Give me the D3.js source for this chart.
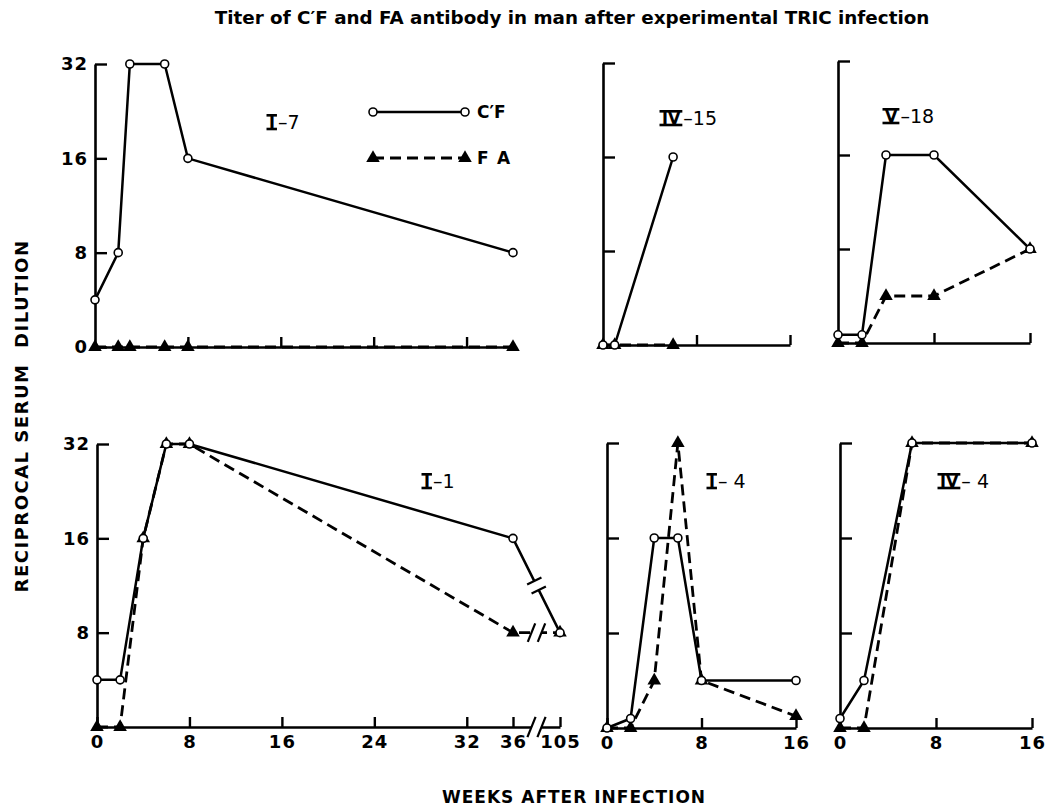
<!DOCTYPE html>
<html><head><meta charset="utf-8">
<script src="https://cdn.jsdelivr.net/npm/d3@7"></script>
<style>body{margin:0;background:#fff} svg{display:block}</style>
</head><body><svg id="c" width="1048" height="807"></svg>
<script>
// ---------- data ----------
const yTickValues = [0, 8, 16, 32];
const yTickLabels = ["0", "8", "16", "32"];
const xTicksLong = [0, 8, 16, 24, 32, 36, 105];
const xTicksShort = [0, 8, 16];

const weeksI7 = [0, 2, 3, 6, 8, 36];
const cfI7 = [4, 8, 32, 32, 16, 8];
const faI7 = [0, 0, 0, 0, 0, 0];

const weeksIV15 = [0, 1, 6];
const cfIV15 = [0, 0, 16];
const faIV15 = [0, 0, 0];

const weeksV18 = [0, 2, 4, 8, 16];
const cfV18 = [0.7, 0.7, 16, 16, 8];
const faV18 = [0, 0, 4, 4, 8];

const weeksI1 = [0, 2, 4, 6, 8, 36, 105];
const cfI1 = [4, 4, 16, 32, 32, 16, 8];
const faI1 = [0, 0, 16, 32, 32, 8, 8];

const weeksI4 = [0, 2, 4, 6, 8, 16];
const cfI4 = [0, 0.8, 16, 16, 4, 4];
const faI4 = [0, 0, 4, 32, 4, 1];

const weeksIV4 = [0, 2, 6, 16];
const cfIV4 = [0.8, 4, 32, 32];
const faIV4 = [0, 0, 32, 32];

const titleText = "Titer of C\u2032F and FA antibody in man after experimental TRIC infection";
const yTitle = "RECIPROCAL SERUM\u00A0 DILUTION";
const xTitle = "WEEKS AFTER INFECTION";

// ---------- layout ----------
const FONT = "DejaVu Sans";
const svg = d3.select("#c");

const panels = [
  {roman:"I", suffix:"\u20137", weeks:weeksI7, cf:cfI7, fa:faI7, xDomain:[0,36], xRange:[95,513], top:64, base:347,
   xTicks:[8,16,24,32], xLabels:false, yTicks:[0,8,16,32], yLabels:true, showZero:true, lab:[269,128]},
  {roman:"IV", suffix:"\u201315", weeks:weeksIV15, cf:cfIV15, fa:faIV15, xDomain:[0,16], xRange:[603,790], top:63, base:345,
   xTicks:[8,16], xLabels:false, yTicks:[8,16,32], yLabels:false, lab:[662,124]},
  {roman:"V", suffix:"\u201318", weeks:weeksV18, cf:cfV18, fa:faV18, xDomain:[0,16], xRange:[838,1030], top:61, base:343,
   xTicks:[8,16], xLabels:false, yTicks:[8,16,32], yLabels:false, lab:[885,122]},
  {roman:"I", suffix:"\u20131", weeks:weeksI1, cf:cfI1, fa:faI1, xDomain:[0,36,105], xRange:[97,513,560], top:444, base:727,
   xTicks:xTicksLong, xLabels:true, yTicks:[8,16,32], yLabels:true, lab:[424,487], breaks:true},
  {roman:"I", suffix:"\u2013 4", weeks:weeksI4, cf:cfI4, fa:faI4, xDomain:[0,16], xRange:[607,796], top:443, base:728,
   xTicks:xTicksShort, xLabels:true, yTicks:[8,16,32], yLabels:false, lab:[709,487]},
  {roman:"IV", suffix:"\u2013 4", weeks:weeksIV4, cf:cfIV4, fa:faIV4, xDomain:[0,16], xRange:[840,1032], top:443, base:728,
   xTicks:xTicksShort, xLabels:true, yTicks:[8,16,32], yLabels:false, lab:[940,487]}
];

const tri = d3.symbol().type(d3.symbolTriangle).size(80);

function romanLabel(x, yb, roman, suffix) {
  const g = svg.append("g");
  const fs = 16;
  const t = g.append("text").attr("x", x).attr("y", yb)
    .attr("font-family", FONT).attr("font-size", fs).attr("font-weight", "bold").text(roman);
  const w = t.node().getComputedTextLength();
  const capTop = yb - fs * 0.73;
  [capTop - 1, yb + 1].forEach(yy =>
    g.append("line").attr("x1", x - 2.5).attr("x2", x + w + 2).attr("y1", yy).attr("y2", yy)
      .attr("stroke", "#000").attr("stroke-width", 2.6));
  g.append("text").attr("x", x + w + 3).attr("y", yb + 1)
    .attr("font-family", FONT).attr("font-size", 19).text(suffix);
}

function slashes(g, cx, cy, ux, uy, px, py, half, sep) {
  g.append("line").attr("x1", cx - ux*sep).attr("y1", cy - uy*sep)
    .attr("x2", cx + ux*sep).attr("y2", cy + uy*sep)
    .attr("stroke", "#fff").attr("stroke-width", 6);
  [-sep, sep].forEach(s => {
    const mx = cx + ux*s, my = cy + uy*s;
    g.append("line").attr("x1", mx - px*half).attr("y1", my - py*half)
      .attr("x2", mx + px*half).attr("y2", my + py*half)
      .attr("stroke", "#000").attr("stroke-width", 2.2);
  });
}

panels.forEach(p => {
  const x = d3.scaleLinear().domain(p.xDomain).range(p.xRange);
  const h = p.base - p.top;
  const y = d3.scaleLinear().domain(yTickValues)
    .range(yTickValues.map((d, i) => p.base - i * h / 3));
  const g = svg.append("g");

  const xa = d3.axisBottom(x).tickValues(p.xTicks).tickSize(-10).tickSizeOuter(0).tickPadding(8)
    .tickFormat(d => p.xLabels ? String(d) : "");
  const gx = g.append("g").attr("transform", `translate(0,${p.base})`).call(xa);

  const ya = d3.axisLeft(y).tickValues(p.yTicks).tickSize(-12).tickSizeOuter(0).tickPadding(7)
    .tickFormat(d => {
      if (!p.yLabels) return "";
      if (d === 0 && !p.showZero) return "";
      return yTickLabels[yTickValues.indexOf(d)];
    });
  const gy = g.append("g").attr("transform", `translate(${p.xRange[0]},0)`).call(ya);

  [gx, gy].forEach(a => {
    a.attr("font-family", FONT).attr("font-size", 18).attr("font-weight", "bold");
    a.selectAll("path.domain").attr("stroke", "#000").attr("stroke-width", 2.6);
    a.selectAll(".tick line").attr("stroke", "#000").attr("stroke-width", 2.4);
    a.selectAll(".tick text").attr("fill", "#000").attr("letter-spacing", 1);
  });

  const cfPts = p.weeks.map((w, i) => [x(w), y(p.cf[i])]);
  const faPts = p.weeks.map((w, i) => [x(w), y(p.fa[i])]);
  const line = d3.line();

  g.append("path").attr("d", line(faPts)).attr("fill", "none").attr("stroke", "#000")
    .attr("stroke-width", 2.8).attr("stroke-dasharray", "11,6");
  g.append("path").attr("d", line(cfPts)).attr("fill", "none").attr("stroke", "#000")
    .attr("stroke-width", 2.5);

  if (p.breaks) {
    const n = p.weeks.length;
    const bx = (x(p.weeks[n-2]) + x(p.weeks[n-1])) / 2;
    const sl = Math.hypot(8, 20);
    slashes(g, bx, p.base, 1, 0, 8/sl, -20/sl, 11, 5);
    const fa0 = faPts[n-2], fa1 = faPts[n-1];
    slashes(g, (fa0[0]+fa1[0])/2, (fa0[1]+fa1[1])/2, 1, 0, 8/sl, -20/sl, 10, 5);
    const c0 = cfPts[n-2], c1 = cfPts[n-1];
    const dx = c1[0]-c0[0], dy = c1[1]-c0[1], L = Math.hypot(dx, dy);
    const ux = dx/L, uy = dy/L;
    slashes(g, (c0[0]+c1[0])/2, (c0[1]+c1[1])/2, ux, uy, uy, -ux, 8, 5);
  }

  g.selectAll("path.fa").data(faPts).join("path").attr("class", "fa")
    .attr("d", tri).attr("transform", d => `translate(${d[0]},${d[1]})`).attr("fill", "#000");
  g.selectAll("circle.cf").data(cfPts).join("circle").attr("class", "cf")
    .attr("cx", d => d[0]).attr("cy", d => d[1]).attr("r", 4)
    .attr("fill", "#fff").attr("stroke", "#000").attr("stroke-width", 1.6);

  romanLabel(p.lab[0], p.lab[1], p.roman, p.suffix);
});

// ---------- legend ----------
const lg = svg.append("g");
lg.append("line").attr("x1", 373).attr("x2", 465).attr("y1", 112).attr("y2", 112)
  .attr("stroke", "#000").attr("stroke-width", 2.5);
[373, 465].forEach(cx => lg.append("circle").attr("cx", cx).attr("cy", 112).attr("r", 4)
  .attr("fill", "#fff").attr("stroke", "#000").attr("stroke-width", 1.6));
lg.append("text").attr("x", 477).attr("y", 118).attr("font-family", FONT).attr("font-size", 17)
  .attr("font-weight", "bold").text("C\u2032F");
lg.append("line").attr("x1", 373).attr("x2", 465).attr("y1", 158).attr("y2", 158)
  .attr("stroke", "#000").attr("stroke-width", 2.8).attr("stroke-dasharray", "11,6");
[373, 465].forEach(cx => lg.append("path").attr("d", tri).attr("transform", `translate(${cx},158)`).attr("fill", "#000"));
lg.append("text").attr("x", 477).attr("y", 164).attr("font-family", FONT).attr("font-size", 17)
  .attr("font-weight", "bold").text("F\u2002A");

// ---------- titles ----------
const tt = svg.append("text").attr("x", 572).attr("y", 24).attr("text-anchor", "middle")
  .attr("font-family", FONT).attr("font-weight", "bold").attr("font-size", 15).text(titleText);
const tw = tt.node().getComputedTextLength();
tt.attr("font-size", 15 * 715 / tw);

svg.append("text").attr("transform", "translate(21,416) rotate(-90)")
  .attr("text-anchor", "middle").attr("dominant-baseline", "central")
  .attr("font-family", FONT).attr("font-weight", "bold").attr("font-size", 18)
  .attr("letter-spacing", 1.5).text(yTitle);

svg.append("text").attr("x", 574).attr("y", 803).attr("text-anchor", "middle")
  .attr("font-family", FONT).attr("font-weight", "bold").attr("font-size", 17)
  .attr("letter-spacing", 1).text(xTitle);
</script></body></html>
